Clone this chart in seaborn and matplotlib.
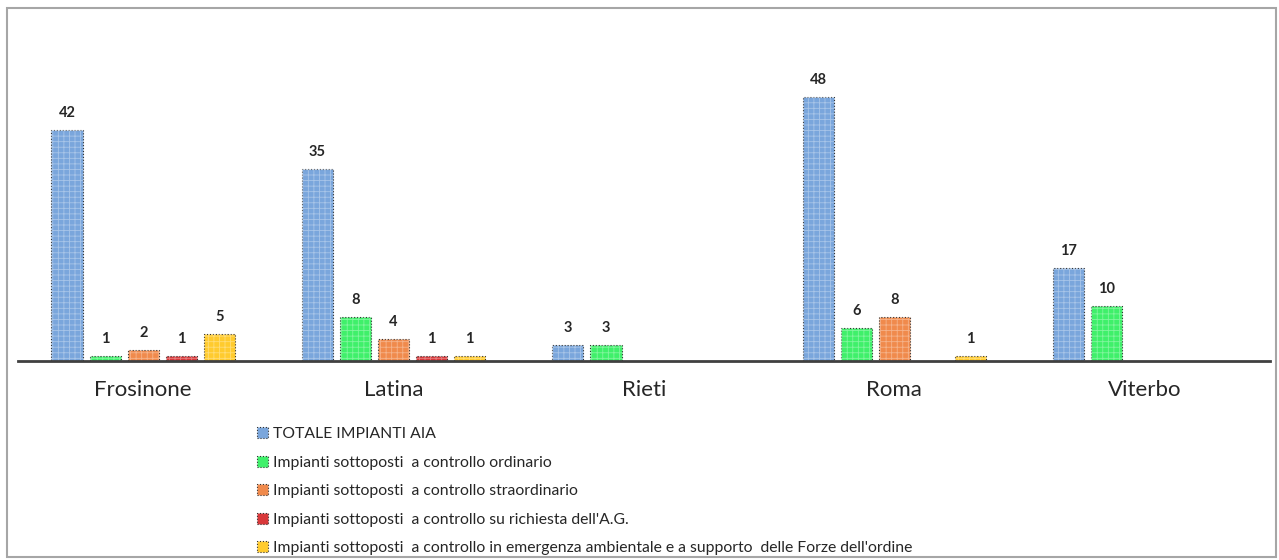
import numpy as np
import pandas as pd
import matplotlib
matplotlib.use('Agg')
import matplotlib.pyplot as plt
from matplotlib.patches import Rectangle
import seaborn as sns

# Data
province = ['Frosinone', 'Latina', 'Rieti', 'Roma', 'Viterbo']
serie = ['TOTALE IMPIANTI AIA',
         'Impianti sottoposti  a controllo ordinario',
         'Impianti sottoposti  a controllo straordinario',
         "Impianti sottoposti  a controllo su richiesta dell'A.G.",
         "Impianti sottoposti  a controllo in emergenza ambientale e a supporto  delle Forze dell'ordine"]
totale = [42, 35, 3, 48, 17]
ordinario = [1, 8, 3, 6, 10]
straordinario = [2, 4, np.nan, 8, np.nan]
richiesta_ag = [1, 1, np.nan, np.nan, np.nan]
emergenza = [5, 1, np.nan, 1, np.nan]
colori = ['#7aa6dc', '#3ff06a', '#f08a4c', '#d8383a', '#ffcb2e']

rows = []
for nome, valori in zip(serie, [totale, ordinario, straordinario, richiesta_ag, emergenza]):
    for p, v in zip(province, valori):
        rows.append({'Provincia': p, 'Serie': nome, 'Valore': v})
df = pd.DataFrame(rows)

sns.set_style('white')
plt.rcParams['font.family'] = ['Lato', 'DejaVu Sans']

fig = plt.figure(figsize=(12.79, 5.6), dpi=100)
ax = fig.add_axes([18 / 1279, 1 - 361 / 560, 1252 / 1279, 330 / 560])

sns.barplot(data=df, x='Provincia', y='Valore', hue='Serie', hue_order=serie,
            order=province, palette=colori, width=0.76, gap=0.18,
            edgecolor='#333333', linewidth=0.8, linestyle=':', saturation=1,
            ax=ax, legend=True)

# light grid texture over the bars
plt.rcParams['hatch.linewidth'] = 0.6
for patch in list(ax.patches):
    if patch.get_height() > 0:
        ax.add_patch(Rectangle(patch.get_xy(), patch.get_width(), patch.get_height(),
                               facecolor='none', edgecolor=(1, 1, 1, 0.35),
                               hatch='+++', linewidth=0))

for cont in ax.containers:
    ax.bar_label(cont, fmt='{:.0f}', padding=7, fontsize=10.5, fontweight='bold')

ax.set_xlim(-0.5, 4.5)
ax.set_ylim(0, 60)
ax.set_xlabel('')
ax.set_ylabel('')
ax.set_yticks([])
ax.tick_params(axis='x', length=0, pad=14, labelsize=16)
for s in ['top', 'left', 'right']:
    ax.spines[s].set_visible(False)
ax.spines['bottom'].set_color('#404040')
ax.spines['bottom'].set_linewidth(2)

handles, labels = ax.get_legend_handles_labels()
ax.get_legend().remove()
fig.legend(handles, labels, loc='upper left', bbox_to_anchor=(257 / 1279, 1 - 427 / 560),
           frameon=False, fontsize=11.3, handlelength=0.7, handleheight=0.7,
           handletextpad=0.3, labelspacing=0.93, borderaxespad=0, borderpad=0)

fig.add_artist(Rectangle((7 / 1279, 3 / 560), 1269 / 1279, 549 / 560,
                         transform=fig.transFigure, fill=False,
                         edgecolor='#a6a6a6', linewidth=1.5))

fig.savefig('out.png', dpi=100)
